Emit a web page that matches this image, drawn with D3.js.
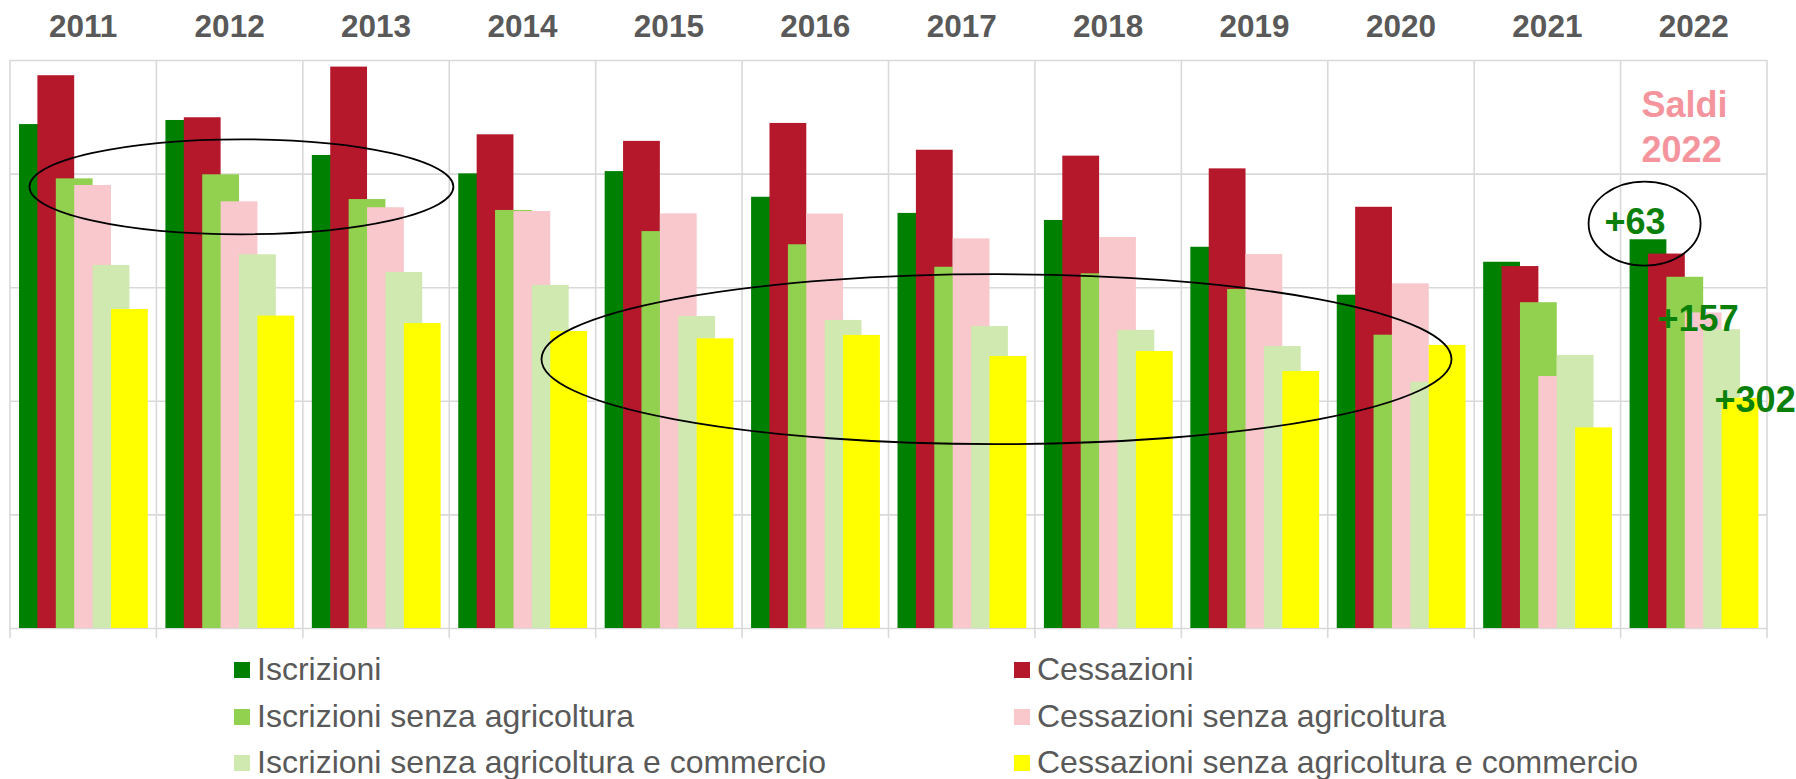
<!DOCTYPE html>
<html>
<head>
<meta charset="utf-8">
<script src="https://cdn.jsdelivr.net/npm/d3@7"></script>
<style>
  body { margin: 0; background: #fff; overflow: hidden; }
  svg { display: block; font-family: "Liberation Sans", Arial, sans-serif; }
</style>
</head>
<body>
<svg width="1796" height="779"></svg>
<script>
// anni (categorie)
const years = ["2011", "2012", "2013", "2014", "2015", "2016", "2017", "2018", "2019", "2020", "2021", "2022"];

// valori
const iscrizioni      = [2218, 2236, 2082, 2001, 2011, 1898, 1827, 1796, 1678, 1467, 1612, 1711];
const cessazioni      = [2433, 2248, 2471, 2173, 2144, 2223, 2105, 2079, 2023, 1854, 1593, 1648];
const iscrSenzaAgr    = [1979, 1997, 1888, 1840, 1747, 1689, 1590, 1561, 1492, 1291, 1434, 1546];
const cessSenzaAgr    = [1950, 1878, 1852, 1835, 1825, 1824, 1715, 1721, 1646, 1517, 1109, 1389];
const iscrSenzaAgrCom = [1598, 1645, 1567, 1510, 1373, 1356, 1329, 1312, 1241, 1084, 1202, 1315];
const cessSenzaAgrCom = [1404, 1375, 1342, 1307, 1275, 1290, 1197, 1219, 1131, 1246,  883, 1013];

const yTicks = [0, 500, 1000, 1500, 2000, 2500];

// l'ordine conta: le serie disegnate dopo stanno sopra
const series = [
    { name: "Iscrizioni", values: iscrizioni, color: "#008000" },
    { name: "Cessazioni", values: cessazioni, color: "#b5172b" },
    { name: "Iscrizioni senza agricoltura", values: iscrSenzaAgr, color: "#92d050" },
    { name: "Cessazioni senza agricoltura", values: cessSenzaAgr, color: "#f8c8cc" },
    { name: "Iscrizioni senza agricoltura e commercio", values: iscrSenzaAgrCom, color: "#d0e9b0" },
    { name: "Cessazioni senza agricoltura e commercio", values: cessSenzaAgrCom, color: "#ffff00" },
];

const svg = d3.select("svg");
const plotL = 10, plotR = 1767, plotT = 60, plotB = 628;

const x = d3.scaleBand().domain(years).range([plotL, plotR]).padding(0);
const y = d3.scaleLinear().domain([0, 2500]).range([plotB, plotT]);

// posizione delle barre dentro la categoria (barre sovrapposte a metà)
const barW = 36.8;
const sub = d3.scaleLinear().domain([0, 5]).range([9, 9 + 5 * barW / 2]);

// griglia orizzontale
const gridY = svg.append("g").attr("transform", `translate(${plotL},0)`)
    .call(d3.axisLeft(y).tickValues(yTicks).tickSize(-(plotR - plotL)).tickFormat(""));
gridY.select(".domain").remove();
gridY.selectAll("line").attr("stroke", "#d9d9d9").attr("stroke-width", 1.6);

// linee verticali fra le categorie
const edges = years.map(d => x(d)).concat([plotR]);
svg.append("g").selectAll("line").data(edges).enter().append("line")
    .attr("x1", d => d).attr("x2", d => d)
    .attr("y1", plotT).attr("y2", plotB + 10)
    .attr("stroke", "#d9d9d9").attr("stroke-width", 1.6);

// barre
series.forEach((s, i) => {
    svg.append("g").selectAll("rect")
        .data(s.values)
        .enter()
        .append("rect")
        .attr("x", (d, j) => x(years[j]) + sub(i))
        .attr("y", d => y(d))
        .attr("width", barW)
        .attr("height", d => y(0) - y(d))
        .attr("fill", s.color);
});

// anni in alto
const xAxis = svg.append("g").attr("transform", `translate(0,${plotT})`)
    .call(d3.axisTop(x).tickSize(0).tickPadding(23));
xAxis.select(".domain").remove();
xAxis.selectAll("text")
    .attr("font-size", "31.5px")
    .attr("font-weight", "bold")
    .attr("fill", "#595959")
    .style("font-family", "'Liberation Sans', Arial, sans-serif");

// ellissi di evidenziazione
const ellipses = [
    { year: "2012", dx: 85, v: 1942, rx: 212, ry: 47.5 },
    { year: "2017", dx: 108, v: 1183, rx: 455, ry: 85 },
    { year: "2022", dx: 24, v: 1780, rx: 56, ry: 42 },
];
svg.append("g").selectAll("ellipse").data(ellipses).enter().append("ellipse")
    .attr("cx", d => x(d.year) + d.dx)
    .attr("cy", d => y(d.v))
    .attr("rx", d => d.rx).attr("ry", d => d.ry)
    .attr("fill", "none").attr("stroke", "#000").attr("stroke-width", 1.8);

// Saldi 2022
const last = years.length - 1;
const saldoTitle = svg.append("text")
    .attr("x", x("2022") + 21)
    .attr("y", 117)
    .attr("font-size", "36px").attr("font-weight", "bold").attr("fill", "#f4959e");
saldoTitle.append("tspan").text("Saldi");
saldoTitle.append("tspan").attr("x", x("2022") + 21).attr("dy", 45).text("2022");

const fmt = d3.format("+");
const saldi = [
    { v: iscrizioni[last] - cessazioni[last], ref: cessazioni[last], dx: -16, dy: -20 },
    { v: iscrSenzaAgr[last] - cessSenzaAgr[last], ref: cessSenzaAgr[last], dx: 37, dy: 19 },
    { v: iscrSenzaAgrCom[last] - cessSenzaAgrCom[last], ref: cessSenzaAgrCom[last], dx: 94, dy: 14 },
];
svg.append("g").selectAll("text").data(saldi).enter().append("text")
    .attr("x", d => x("2022") + d.dx)
    .attr("y", d => y(d.ref) + d.dy)
    .attr("font-size", "36px").attr("font-weight", "bold").attr("fill", "#0a800a")
    .text(d => fmt(d.v));

// legenda
const legend = svg.append("g");
const legCols = [234, 1014];
const legRows = [680, 727, 773];
series.forEach((s, i) => {
    const col = i % 2, row = Math.floor(i / 2);
    const g = legend.append("g").attr("transform", `translate(${legCols[col]},${legRows[row]})`);
    g.append("rect").attr("x", 0).attr("y", -18).attr("width", 16).attr("height", 16).attr("fill", s.color);
    g.append("text").attr("x", 23).attr("y", 0)
        .attr("font-size", "32px").attr("fill", "#595959").text(s.name);
});
</script>
</body>
</html>
